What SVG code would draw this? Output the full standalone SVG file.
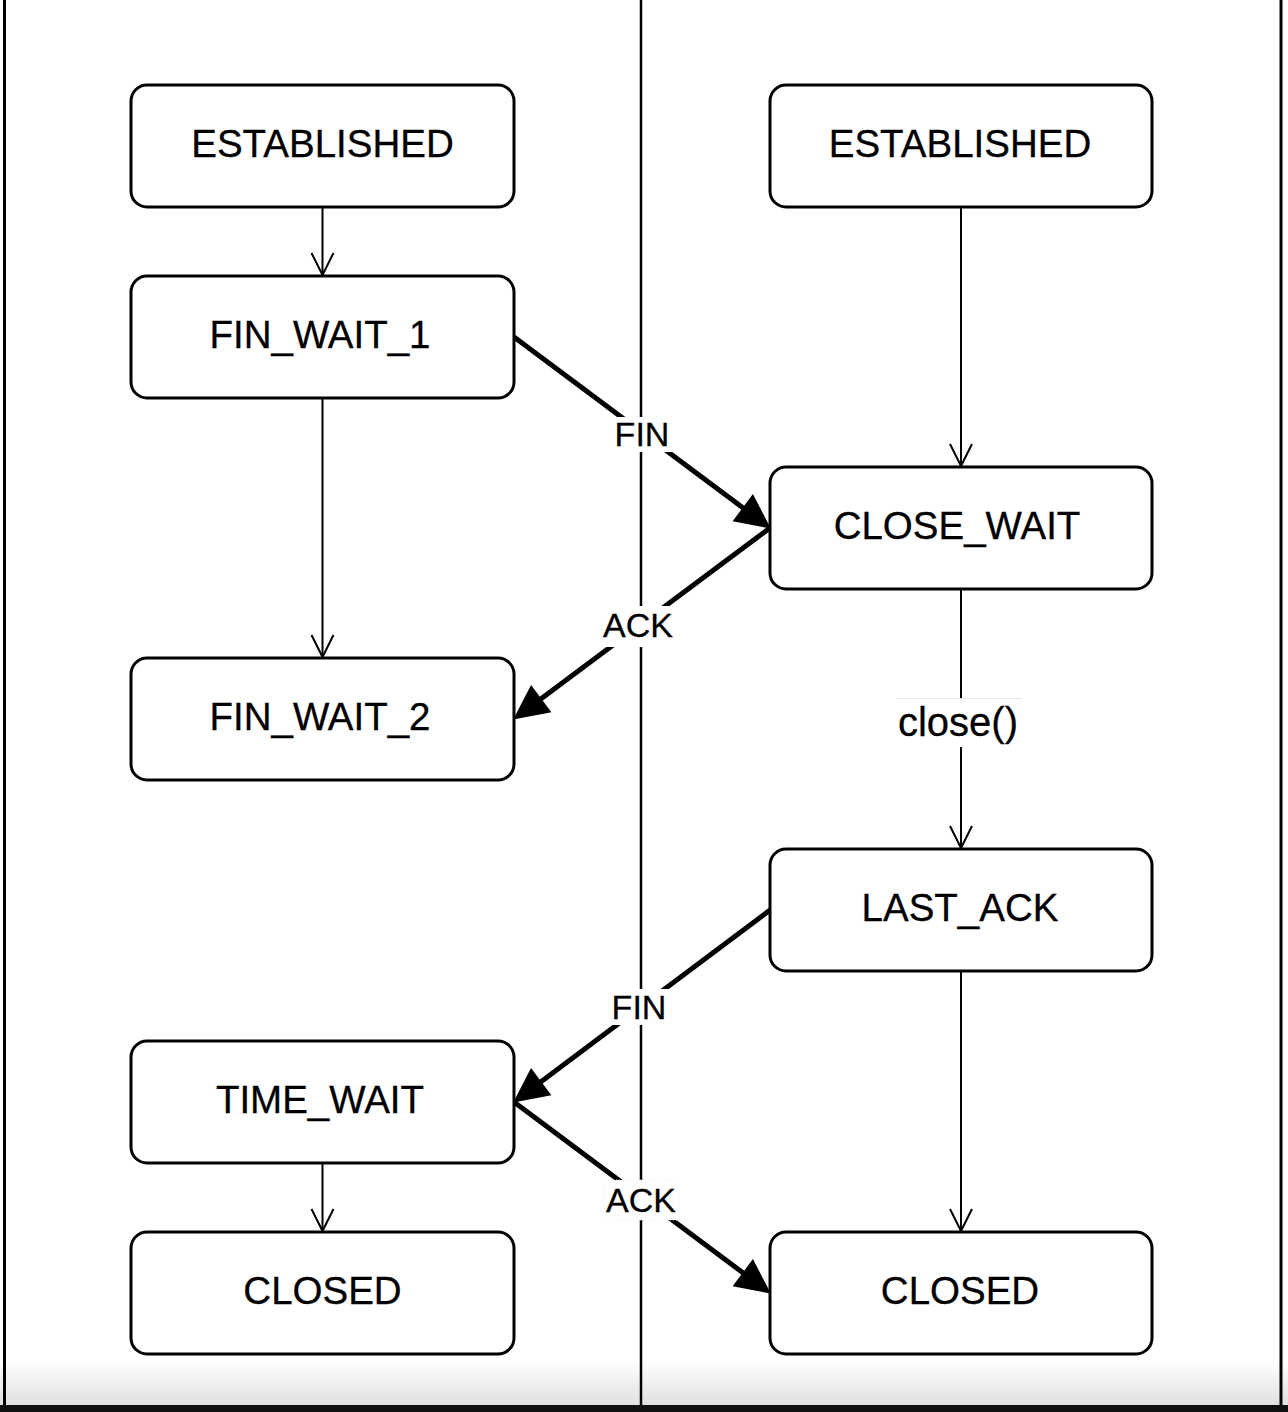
<svg xmlns="http://www.w3.org/2000/svg" width="1288" height="1412" viewBox="0 0 1288 1412">
<defs>
<linearGradient id="shade" x1="0" y1="0" x2="0" y2="1">
<stop offset="0" stop-color="#ffffff"/>
<stop offset="1" stop-color="#e0e0e0"/>
</linearGradient>
<marker id="open" markerUnits="userSpaceOnUse" markerWidth="30" markerHeight="30" refX="24" refY="12" orient="auto" overflow="visible">
<path d="M2,1 L24,12 L2,23" fill="none" stroke="#000" stroke-width="2"/>
</marker>
<marker id="block" markerUnits="userSpaceOnUse" markerWidth="40" markerHeight="40" refX="24" refY="17" orient="auto" overflow="visible">
<path d="M0,0 L35,17 L0,34 Z" fill="#000"/>
</marker>
</defs>
<style>
.node rect{fill:#fff;stroke:#000;stroke-width:3}
.node text{font-family:"Liberation Sans",Arial,Helvetica,sans-serif;font-size:38.5px;text-anchor:middle;fill:#000;stroke:#000;stroke-width:0.3}
.thin{fill:none;stroke:#000;stroke-width:2;marker-end:url(#open)}
.thick{fill:none;stroke:#000;stroke-width:5;marker-end:url(#block)}
.lbl{font-family:"Liberation Sans",Arial,Helvetica,sans-serif;font-size:34px;text-anchor:middle;fill:#000;stroke:#000;stroke-width:0.3}
.lblbg{fill:#fff}
.frame{stroke:#000;stroke-width:3}
</style>
<rect x="0" y="0" width="1288" height="1412" fill="#fff"/>
<rect x="0" y="1360" width="1288" height="46" fill="url(#shade)"/>
<rect x="0" y="1405" width="1288" height="7" fill="#111"/>
<g id="frame">
<line class="frame" x1="4.5" y1="0" x2="4.5" y2="1405"/>
<line class="frame" x1="1281" y1="0" x2="1281" y2="1405"/>
<line x1="641" y1="0" x2="641" y2="1405" stroke="#000" stroke-width="2.5"/>
</g>
<g id="connectors">
<path class="thin" d="M322.5,207 L322.5,275"/>
<path class="thin" d="M322.5,398 L322.5,657"/>
<path class="thin" d="M322.5,1163 L322.5,1231"/>
<path class="thin" d="M961,207 L961,466"/>
<path class="thin" d="M961,589 L961,848"/>
<path class="thin" d="M961,971 L961,1231"/>
<path class="thick" d="M514,337 L762,522"/>
<path class="thick" d="M770,528 L522,713"/>
<path class="thick" d="M770,910 L522,1096"/>
<path class="thick" d="M514,1102 L762,1287"/>
<g id="label-fin1">
<rect class="lblbg" x="612" y="417" width="60" height="35"/>
<text class="lbl" x="642" y="446">FIN</text>
</g>
<g id="label-ack1">
<rect class="lblbg" x="600" y="606" width="76" height="41"/>
<text class="lbl" x="638" y="637">ACK</text>
</g>
<g id="label-close">
<rect class="lblbg" x="896" y="698" width="126" height="49"/>
<line x1="896" y1="698.5" x2="1022" y2="698.5" stroke="#e6e6e6" stroke-width="1"/>
<text class="lbl" x="958" y="736" style="font-size:40px">close()</text>
</g>
<g id="label-fin2">
<rect class="lblbg" x="609" y="989" width="60" height="36"/>
<text class="lbl" x="639" y="1019">FIN</text>
</g>
<g id="label-ack2">
<rect class="lblbg" x="604" y="1180" width="75" height="40" stroke="#eeeeee" stroke-width="1" stroke-dasharray="1,2"/>
<text class="lbl" x="641" y="1212">ACK</text>
</g>
</g>
<g id="n-established-l" class="node"><rect x="131" y="85" width="383" height="122" rx="16"/><text x="322.5" y="157">ESTABLISHED</text></g>
<g id="n-fin-wait-1" class="node"><rect x="131" y="276" width="383" height="122" rx="16"/><text x="320" y="348">FIN_WAIT_1</text></g>
<g id="n-fin-wait-2" class="node"><rect x="131" y="658" width="383" height="122" rx="16"/><text x="320" y="730">FIN_WAIT_2</text></g>
<g id="n-time-wait" class="node"><rect x="131" y="1041" width="383" height="122" rx="16"/><text x="320" y="1113">TIME_WAIT</text></g>
<g id="n-closed-l" class="node"><rect x="131" y="1232" width="383" height="122" rx="16"/><text x="322.5" y="1304">CLOSED</text></g>
<g id="n-established-r" class="node"><rect x="770" y="85" width="382" height="122" rx="16"/><text x="960" y="157">ESTABLISHED</text></g>
<g id="n-close-wait" class="node"><rect x="770" y="467" width="382" height="122" rx="16"/><text x="957" y="539">CLOSE_WAIT</text></g>
<g id="n-last-ack" class="node"><rect x="770" y="849" width="382" height="122" rx="16"/><text x="960" y="921">LAST_ACK</text></g>
<g id="n-closed-r" class="node"><rect x="770" y="1232" width="382" height="122" rx="16"/><text x="960" y="1304">CLOSED</text></g>
</svg>
